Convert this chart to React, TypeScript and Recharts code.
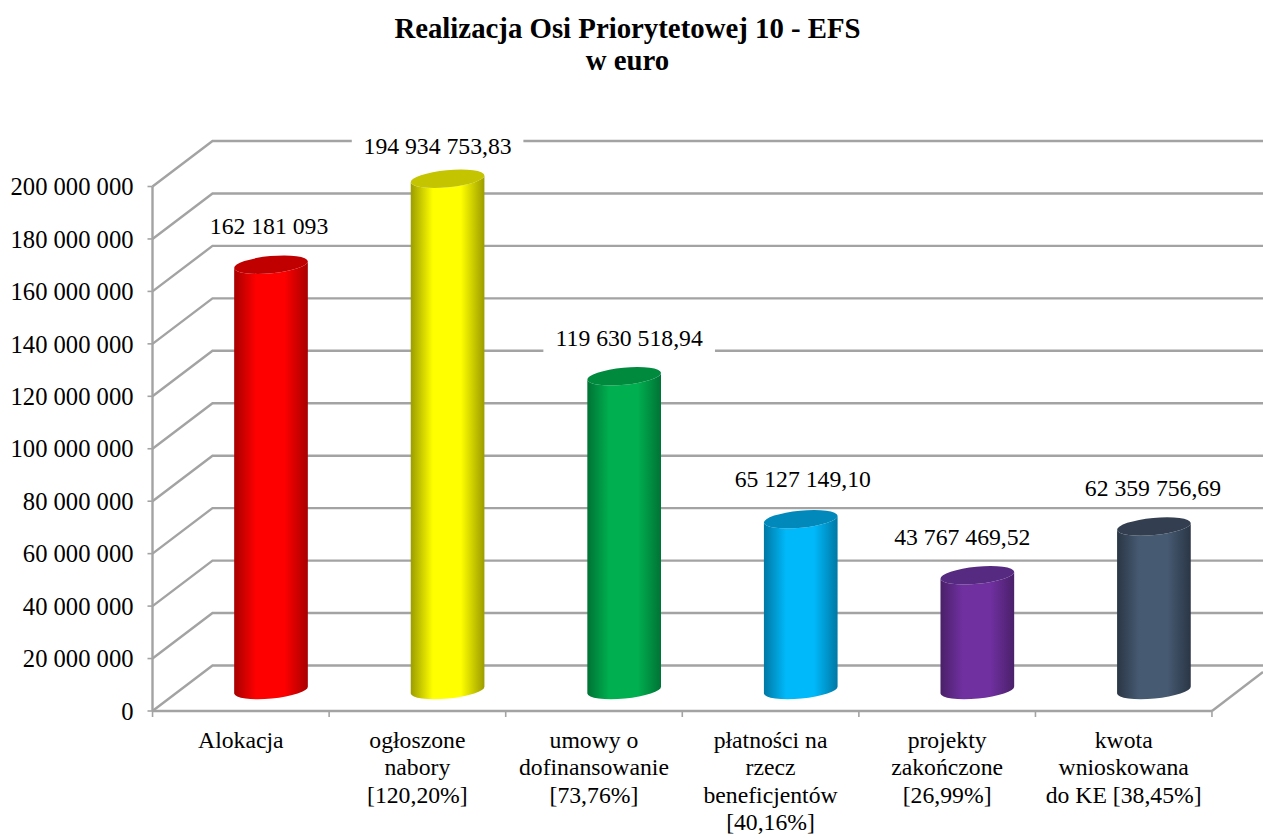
import React from "react";
import { BarChart, Bar, XAxis, YAxis, CartesianGrid, LabelList } from "recharts";

const categories = [
  "Alokacja",
  "ogłoszone\nnabory\n[120,20%]",
  "umowy o\ndofinansowanie\n[73,76%]",
  "płatności na\nrzecz\nbeneficjentów\n[40,16%]",
  "projekty\nzakończone\n[26,99%]",
  "kwota\nwnioskowana\ndo KE [38,45%]",
];
const values = [162181093, 194934753.83, 119630518.94, 65127149.1, 43767469.52, 62359756.69];
const valueLabels = [
  "162 181 093",
  "194 934 753,83",
  "119 630 518,94",
  "65 127 149,10",
  "43 767 469,52",
  "62 359 756,69",
];
const yTicks = [0, 20000000, 40000000, 60000000, 80000000, 100000000, 120000000, 140000000, 160000000, 180000000, 200000000];
const mainColors = ["#FF0000", "#FFFF00", "#00B050", "#00B9FA", "#7030A0", "#465A72"];
const edgeColors = ["#A80000", "#9C9C00", "#007335", "#0078A4", "#4A2069", "#2A3645"];
const topColors = ["#C00000", "#C4C400", "#008A3E", "#0089BA", "#562A80", "#333F50"];

const data = categories.map((name, i) => ({
  name,
  value: values[i],
  label: valueLabels[i],
  main: mainColors[i],
  edge: edgeColors[i],
  top: topColors[i],
}));

const GRID = "#A3A3A3";
const FONT = "'Liberation Serif', 'Times New Roman', serif";
const DX = 60;
const DY = -45.5;
const BAR_DX = 30.5;
const BAR_DY = -21;
const TILT = -5.4;
const labelNudge = [
  [-2, -1],
  [-10, 5],
  [5, 0],
  [2, -2],
  [-15, 0],
  [-1, 0],
];

const formatTick = (v: number) => String(v).replace(/\B(?=(\d{3})+(?!\d))/g, " ");

function gridLine(props: any) {
  const { x1, x2, y1, key } = props;
  const isFloor = Math.abs(y1 - 711) < 2;
  return (
    <g key={key}>
      <polyline
        points={`${x1},${y1} ${x1 + DX},${y1 + DY} 1263,${y1 + DY}`}
        fill="none"
        stroke={GRID}
        strokeWidth={2.4}
      />
      {isFloor && <line x1={x2} y1={y1} x2={1263} y2={y1 - 39} stroke={GRID} strokeWidth={2.4} />}
    </g>
  );
}

function Cylinder(props: any) {
  const { x, y, width, height, payload, index } = props;
  const rx = width / 2;
  const ry = 8.6;
  const cx = x + rx + BAR_DX;
  const topY = y + BAR_DY;
  const botY = y + height + BAR_DY;
  const rad = (TILT * Math.PI) / 180;
  const ox = rx * Math.cos(rad);
  const oy = rx * Math.sin(rad);
  const id = `cyl-${index}`;
  return (
    <g>
      <defs>
        <linearGradient id={id} x1="0" y1="0" x2="1" y2="0">
          <stop offset="0%" stopColor={payload.edge} />
          <stop offset="30%" stopColor={payload.main} />
          <stop offset="68%" stopColor={payload.main} />
          <stop offset="100%" stopColor={payload.edge} />
        </linearGradient>
      </defs>
      <path
        d={`M${cx - ox},${topY - oy} L${cx - ox},${botY - oy} A${rx},${ry} ${TILT} 0 0 ${cx + ox},${botY + oy} L${cx + ox},${topY + oy} A${rx},${ry} ${TILT} 0 1 ${cx - ox},${topY - oy} Z`}
        fill={`url(#${id})`}
      />
      <ellipse cx={cx} cy={topY} rx={rx} ry={ry} fill={payload.top} transform={`rotate(${TILT} ${cx} ${topY})`} />
    </g>
  );
}

function ValueLabel(props: any) {
  const { x, y, width, index, value } = props;
  const [nx, ny] = labelNudge[index];
  const cx = x + width / 2 + BAR_DX + nx;
  const cy = y - 59 + ny;
  const w = String(value).length * 11.4 + 12;
  return (
    <g>
      <rect x={cx - w / 2} y={cy - 15} width={w} height={30} fill="#FFFFFF" />
      <text x={cx} y={cy} dy="0.33em" textAnchor="middle" fontFamily={FONT} fontSize={23.7} fill="#000000">
        {value}
      </text>
    </g>
  );
}

function CategoryTick(props: any) {
  const { x, y, payload, index } = props;
  const step = 176.5;
  const lines = String(payload.value).split("\n");
  return (
    <g>
      <line x1={x - step / 2} y1={y - 8} x2={x - step / 2} y2={y - 2} stroke={GRID} strokeWidth={1.6} />
      {index === categories.length - 1 && (
        <line x1={x + step / 2} y1={y - 8} x2={x + step / 2} y2={y - 2} stroke={GRID} strokeWidth={1.6} />
      )}
      {lines.map((l: string, i: number) => (
        <text key={i} x={x} y={y + 29 + i * 27.4} textAnchor="middle" fontFamily={FONT} fontSize={23.7} fill="#000000">
          {l}
        </text>
      ))}
    </g>
  );
}

export default function App() {
  return (
    <div style={{ position: "absolute", left: 0, top: 0, width: 1263, height: 834, background: "#fff", overflow: "hidden" }}>
      <div
        style={{
          position: "absolute",
          left: 0,
          width: 1255,
          top: 12,
          textAlign: "center",
          fontFamily: FONT,
          fontWeight: "bold",
          fontSize: 28.8,
          lineHeight: "32px",
          color: "#000",
        }}
      >
        Realizacja Osi Priorytetowej 10 - EFS
        <br />w euro
      </div>
      <BarChart
        width={1263}
        height={834}
        data={data}
        margin={{ top: 186.5, right: 51, bottom: 0, left: 0 }}
        barCategoryGap={0}
      >
        <CartesianGrid vertical={false} horizontal={gridLine} />
        <XAxis
          dataKey="name"
          height={123}
          interval={0}
          tick={CategoryTick}
          tickLine={false}
          axisLine={{ stroke: GRID, strokeWidth: 2.4 }}
        />
        <YAxis
          width={152.5}
          domain={[0, 200000000]}
          ticks={yTicks}
          interval={0}
          tickFormatter={formatTick}
          tickSize={5}
          tickMargin={14}
          tick={{ fontFamily: FONT, fontSize: 24.6, fill: "#000" }}
          tickLine={{ stroke: GRID, strokeWidth: 1.6 }}
          axisLine={{ stroke: GRID, strokeWidth: 2.4 }}
        />
        <Bar dataKey="value" barSize={74} isAnimationActive={false} shape={Cylinder}>
          <LabelList dataKey="label" content={ValueLabel} />
        </Bar>
      </BarChart>
    </div>
  );
}
